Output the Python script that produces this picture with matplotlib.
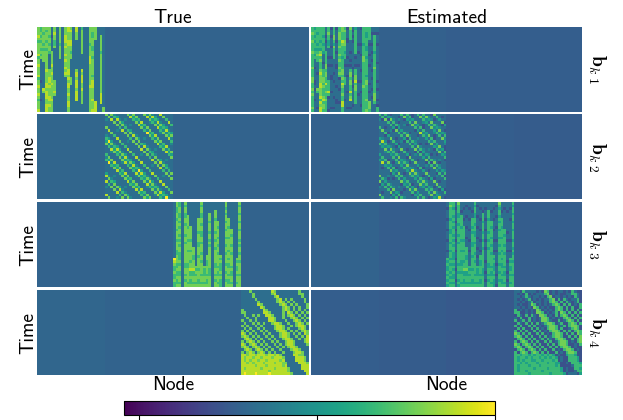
import numpy as np
import matplotlib
matplotlib.use("Agg")
import matplotlib.pyplot as plt

plt.rcParams["mathtext.fontset"] = "cm"

titles = ["True", "Estimated"]
row_labels = [r"$\mathbf{b}_{k\ 1}$", r"$\mathbf{b}_{k\ 2}$", r"$\mathbf{b}_{k\ 3}$", r"$\mathbf{b}_{k\ 4}$"]
x_label = "Node"
y_label = "Time"
colorbar_ticks = [0, 0.5, 1]

# Mean background level of the four 25-node blocks, per panel (the pixel noise is not legible cell by cell)
bg_true = [[.30, .29, .29, .29], [.30, .30, .29, .29], [.29, .29, .29, .29], [.30, .29, .29, .30]]
bg_est = [[.30, .28, .27, .27], [.28, .28, .27, .26], [.29, .27, .27, .27], [.27, .26, .25, .30]]

# Block 1: one string per node, top to bottom, digit = level in ninths
p1_true = ["77787677778677877786778778767778", "66767677676733333333233333323333", "77677767677773333333333873333333",
 "76777677677777778777788788877888", "77767767763333337778878777887877", "33323333377777877877787777787777",
 "77877667333333333333777787333333", "33333333333333333333333333333333", "77777767777733333333333333333333",
 "33333333333333333333333333333333", "77788878778787787873333333333333", "88777887777777778878788778778877",
 "78777887767733333337773333333333", "33333333333333333333333333333333", "88777333333333337887888788883333",
 "33333333333333333333333333333333", "67777777773333338788877877777333", "33333333333333333333333333333333",
 "33333333333333333333333333333333", "77777767777888777777778777777777", "77667776677677777767888777787778",
 "77777333333333333333333333338888", "33333333333333333333333333333333", "33377777767777777777777778888333",
 "33333333333333333333333333333377"]
p1_est = ["66766766676666676667766767666676", "56656566565633323333223233323333", "66566656567663333233333763333323",
 "66666566578676667877788777868788", "66656656653332336667767666786776", "33323233366666776776686676676666",
 "66766556333233233333666686233332", "23323332333233233322333323333323", "66677657666633333233233333233323",
 "23333233323333223333332333322333", "66777667667676676762333233332333", "77666876666566667767687667668866",
 "67666776656633233336663333323333", "23332233333233233323333323333323", "76666333323323236776776686783323",
 "32323233333333323323232333333233", "56666666663233236677867766666333", "33333323323333233333233332333333",
 "23333323332333332333233323333233", "66666656666776666666667666666666", "66556665566566666656776666676667",
 "66666323332333233333323323337776", "33233323323323332332333233233333", "33266666656666676666666667776333",
 "33233323333332333333233233323266"]

# Block 2: the bands run at one node per time step; one string per diagonal (node at time 0)
p2_true = ["77877687767778776877867778677867", "33333333333333333333333333333333", "76877667877687667787667876778677",
 "45454354453544543545435445354454", "33333333333333333333333333333333", "33434333343334333433333433343333",
 "33333333333333333333333333333333", "33333333333333333333333333333333", "78678769767867867696786778678767",
 "45545445545454554545545454554545", "77686776877686767786768767768677", "33333333333333333333333333333333",
 "33333333333333333333333333333333", "33343334333433433343333433343343", "78767867786768767786768767867786",
 "44544544545445544544544554454454", "78687686769768778678698678767869", "45545545455455454554555455454554",
 "33333333333333333333333333333333", "33333333333333333333333333333333", "87686787687668768786768768876787",
 "33333333333333333333333333333333", "33333333333333333333333333333333", "33433343334333343334333433343334",
 "33333333333333333333333333333333"]
p2_est = ["66766576656667665766756667566756", "33233233323333233323333233332332", "65766556766576556676556765667566",
 "34434334434344343434343343443434", "23323332333233323323333323333233", "33434333343334333433333433343333",
 "32332333233233323333233323332333", "33233323333332333233332333233323", "67567658656756756585675667567656",
 "34434334434344343434343434434343", "66575665766575656675657656657566", "32333233323332333233233333233333",
 "23332333233323333323332333323332", "33343334333433433343333433343343", "67656756675657656675657656756675",
 "34434434343443443343434434434334", "67576575658657667567587567656758", "34434434344344343443444344343443",
 "33233323332333233323333233323332", "23332333233323332333233323332333", "76575676576557657675657657765676",
 "33323332333233323333233323332333", "32333233323332333233323332333233", "33433343334333343334333433343334",
 "33233323332333233323332333233323"]

# Block 3: one string per node, top to bottom
p3_true = ["33333333333333333333398766766766", "77667767776777677766777667667667", "66776676767767676776667677667767",
 "33333333333333333333333333333333", "76776677677767767777777667767677", "33333777767777677767777667777767",
 "33333333377777677767776778667667", "33333333333333333777667778667767", "33333333333333333333333376767767",
 "33333377777677766777677776777667", "76776677677667767776776777767767", "33333333333333333333333376667767",
 "33333333333333333333776677767667", "33337776777677676777777776667777", "33333333333333333333333333333333",
 "33377767777677677677777667767677", "33333337767776776776777767667767", "33333333333333333333767666767666",
 "33333333333333333333333333333333", "77676776776776776776777677677677", "33333377767776777767767667767667",
 "33333333337767776776777767667767", "33333333333333333333333333333333", "33333333333333333333376766767767",
 "76776776776777676776776777767777"]
p3_est = ["33233323332333233323365655656565", "67666656665566656656656566565656", "66566565656656565665556565655656",
 "33233332332333233323323332333233", "76665566566656656666666566566565", "33323666656666566656665566566656",
 "33233323366666566656665667556556", "32333233323332333666556667556656", "33233323332333233323333365656656",
 "33323366656566655666566665666556", "65665566566556656665665666656656", "32333233323332333233233365556656",
 "33233323332333233323665566656556", "33326665666566566566666665556666", "33233323332333233233332333233233",
 "33366656666566566566666556656566", "33323336656665665665666656556656", "33233323332333233323656555656555",
 "32333233323333233323333233323332", "76566565665665665665666566566566", "33323366656665666656656556656556",
 "33233333336656665665666656556656", "33323333333233233323332333233233", "33233323333333233323365655656656",
 "65665665665666566565665666656666"]

# Block 4: one string per time step, left to right
p4_true = ["3337333333387333333337333", "3333733333378333333337733", "3333733333337833333333733",
 "3333373333333783737333373", "3333337333333787373733373", "3333338733333378737373337",
 "3333333873333337873737337", "7333333387333337873737373", "7733333388733337387373737",
 "3733737338873337378737373", "3373373333887337337873737", "7337373333887333733787373",
 "3733737373378873373378737", "7373373733337887337378873", "3737337373337887373337873",
 "7373733737333788737373787", "8737373373733378873737387", "7873737337373378873373738",
 "3787373733737337887337378", "7378737373373733788733378", "8737873737337373788733337",
 "7873787373733737378873333", "3787378737373373337887333", "7378737873737337333788733",
 "8878878887887873333887733", "8788788788878887333388873", "8787887887888878333388873",
 "8878788878887887733338887", "8888878887888887833333888", "8788888788887888873333888",
 "8888888888788888873333388", "8988898888988888887333338"]
p4_est = ["3326333323276232332326322", "3232623233367232322336632", "3323632332326723323232632",
 "3232362323233672626323362", "3323236233232676262632362", "3232237623232367626262326",
 "3323232762323226762626226", "6232323276232326762626262", "6622323277623236276262626",
 "2632626327762326267626262", "3262262323776232326762626", "6236262323776322623676262",
 "2632626262367762362267626", "6262262623236776236267762", "2626226262326776262236762",
 "6262622626232677626262676", "7626262262623267762626276", "6762626226262367762262627",
 "2676262623626326776226267", "6267626262262623677623267", "7626762626226262677622326",
 "6762676262622626267762322", "2676267626262262326776232", "6267626762626226232677622",
 "6656656566565652322566522", "6566565665656565232266652", "6565665566566656232266652",
 "6656566656665665522326665", "6566656665666665622223666", "6566666566665666652322665",
 "6566566666566666652322366", "6666656666666566665233325"]

N_NODES, N_TIME, BLOCK = 100, 32, 25


def digits(lines):
    return np.array([[int(ch) / 9 for ch in (s + "3" * N_TIME)[:max(N_TIME, BLOCK)]] for s in lines])


def panel(block_index, block_cells, levels):
    grid = np.zeros((N_TIME, N_NODES))
    for b, level in enumerate(levels):
        grid[:, b * BLOCK:(b + 1) * BLOCK] = level
    grid[:, block_index * BLOCK:(block_index + 1) * BLOCK] = block_cells
    return grid


def from_cols(lines):
    return digits(lines)[:, :N_TIME].T


def from_rows(lines):
    return digits(lines)[:, :BLOCK]


def from_diagonals(lines):
    d = digits(lines)[:, :N_TIME]
    out = np.zeros((N_TIME, BLOCK))
    for i in range(BLOCK):
        for t in range(N_TIME):
            out[t, (i + t) % BLOCK] = d[i, t]
    return out


left = [from_cols(p1_true), from_diagonals(p2_true), from_cols(p3_true), from_rows(p4_true)]
right = [from_cols(p1_est), from_diagonals(p2_est), from_cols(p3_est), from_rows(p4_est)]

W, H = 623, 420
fig = plt.figure(figsize=(W / 100, H / 100), dpi=100)


def px_axes(x0, y0, x1, y1):
    return fig.add_axes([x0 / W, 1 - y1 / H, (x1 - x0) / W, (y1 - y0) / H])


row_tops = [27, 114.5, 202, 290]
row_bottoms = [112, 199.5, 287, 375]
cols = [(37, 309), (311, 582)]
vmin, vmax = -0.042, 1.0
sans = "cmss10"
im = None
for r in range(4):
    for c, (x0, x1) in enumerate(cols):
        ax = px_axes(x0, row_tops[r], x1, row_bottoms[r])
        data = panel(r, (left if c == 0 else right)[r], (bg_true if c == 0 else bg_est)[r])
        im = ax.imshow(data, cmap="viridis", vmin=vmin, vmax=vmax, aspect="auto", interpolation="nearest")
        ax.set_xticks([])
        ax.set_yticks([])
        for s in ax.spines.values():
            s.set_visible(False)
        if r == 0:
            ax.set_title(titles[c], fontsize=14, family=sans, pad=3)
        if r == 3:
            ax.set_xlabel(x_label, fontsize=14, family=sans, labelpad=1)
        if c == 0:
            ax.set_ylabel(y_label, fontsize=14, family=sans, labelpad=0)
        else:
            ax.text(1.055, 0.5, row_labels[r], transform=ax.transAxes, rotation=-90,
                    ha="center", va="center", fontsize=14)

cax = px_axes(124, 401, 495, 415)
cb = fig.colorbar(im, cax=cax, orientation="horizontal", ticks=colorbar_ticks)
cb.ax.tick_params(length=6, width=0.8, labelbottom=False)
cb.outline.set_linewidth(0.8)
fig.savefig("out.png", dpi=100)
